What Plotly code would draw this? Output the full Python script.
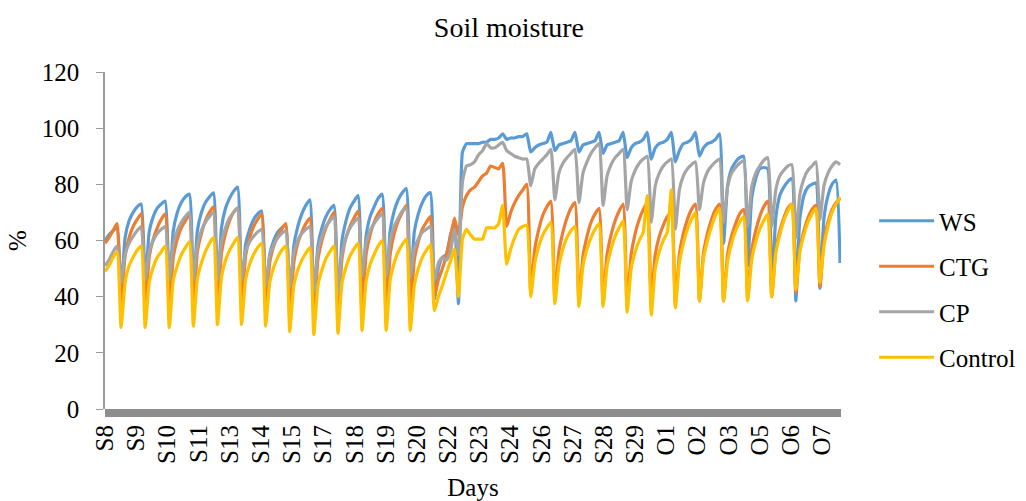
import plotly.graph_objects as go

# sampling interval: 4 hours (1/6 day); day 0 = S8 00:00
STEP_DAYS = 1 / 6

tick_labels = ["S8", "S9", "S10", "S11", "S13", "S14", "S15", "S17", "S18", "S19",
               "S20", "S22", "S23", "S24", "S26", "S27", "S28", "S29", "O1", "O2",
               "O3", "O5", "O6", "O7"]
TICK_SPACING_DAYS = 1.2935

WS = [60, 62, 63.5, 64.5,
      41, 61, 67, 70, 72, 73,
      43.5, 63, 68.5, 71.5, 73, 74,
      42, 63.5, 70, 73.5, 75.5, 76.5,
      42, 63.5, 70, 73.5, 75.5, 77,
      42, 64.5, 71.5, 75, 77.5, 79,
      40, 58.5, 64, 67.5, 69.5, 70.5,
      38, 55, 60, 63, 64.5, 65.5,
      36, 58, 65, 69.5, 72.5, 74.5,
      37, 58, 64.5, 68.5, 71, 72.5,
      37, 60, 67, 71.5, 74, 76,
      40, 61.5, 68.5, 72, 75, 76.5,
      42, 63.5, 70.5, 74.5, 77, 78.5,
      42, 63, 69.5, 73.5, 76, 77,
      39, 50, 54, 55, 62, 66,
      37.5, 91.5, 94.5, 94.5, 94.5, 94.5,
      95, 95, 96, 96, 96.5, 98,
      96, 96.5, 96.5, 97, 97, 98,
      91.5, 93, 94, 94.5, 95, 98.5,
      92, 94, 94.5, 95, 95.5, 98.5,
      91.5, 94, 94.5, 95, 95.5, 98.5,
      91, 94, 94.5, 95, 95.5, 98.5,
      89.5, 93, 94.5, 95, 96, 98.5,
      89, 93, 94.5, 95, 96, 98.5,
      88, 92, 94.5, 95, 96, 98.5,
      90, 93, 94.5, 95, 96, 98,
      59, 79.5, 85.5, 88, 89.5, 90,
      51, 75, 82, 85.5, 86, 85.5,
      41.5, 68, 76, 79, 81, 82,
      38.5, 68, 76, 79, 80, 80.5,
      43, 68, 76, 80, 81.5, 52]

CTG = [59, 61, 63.5, 66,
       36.5, 54.5, 61, 65, 67.5, 69.5,
       35, 54, 60.5, 64.5, 67.5, 69.5,
       36, 54, 60.5, 64.5, 67, 69,
       36, 56, 62.5, 67, 70, 72,
       36, 55.5, 62.5, 67, 70, 71.5,
       36, 54.5, 61, 65, 67.5, 69.5,
       35, 52, 58, 61.5, 64, 66,
       33, 52, 59, 63, 66, 68,
       32, 53, 60, 64.5, 67.5, 70,
       33, 53.5, 61, 65, 68, 70.5,
       34, 55, 62, 66.5, 69.5, 71.5,
       34, 55, 62.5, 67, 70, 72.5,
       34, 53, 59.5, 64, 66.5, 68.5,
       40, 46, 50, 55, 61, 68,
       62, 72, 76, 78, 79, 81,
       83, 84, 86.5, 86, 85.5, 87.5,
       65, 70, 73.5, 76, 78, 80,
       41.5, 57, 64, 69, 72, 74,
       39, 56, 63, 68, 71.5, 73.5,
       37.5, 54.5, 61.5, 66.5, 69.5, 71.5,
       37.5, 55, 62, 67, 70.5, 73,
       36.5, 55, 62.5, 67.5, 71, 73.5,
       39, 55, 61.5, 65.5, 68.5, 70,
       37.5, 55, 62.5, 67.5, 71, 73,
       38.5, 55.5, 62.5, 67.5, 71, 73,
       38.5, 55, 61.5, 66, 69.5, 71,
       39, 56.5, 63.5, 68.5, 72, 74,
       40, 56.5, 63.5, 68, 71.5, 73,
       41.5, 57, 63.5, 68, 71, 72.5,
       43.5, 60, 66.5, 71, 73.5, 75]

CP = [51, 53, 56, 58,
      45, 55, 59, 61.5, 63.5, 65,
      46, 56, 60, 62.5, 64, 65,
      46, 58.5, 63.5, 66.5, 68.5, 70,
      46, 58.5, 63.5, 66.5, 68.5, 70,
      46, 59.5, 64.5, 68, 70, 71.5,
      46, 56, 59.5, 61.5, 63, 64,
      44, 54.5, 58.5, 61, 62.5, 63.5,
      43.5, 55.5, 60, 62.5, 64, 65,
      41.5, 56, 61.5, 65, 67, 68.5,
      41, 55.5, 61, 64.5, 66.5, 68,
      47.5, 59, 63.5, 66, 68, 69.5,
      47, 60, 65, 68, 70.5, 71.5,
      47, 57, 60.5, 63, 64, 65,
      46, 52, 54, 53, 56, 64,
      55, 81, 86.5, 87, 88, 90.5,
      92, 94.5, 93, 93, 94, 95,
      92, 91, 90, 89.5, 89, 89,
      79.5, 85.5, 87.5, 89, 90.5, 92.5,
      74.5, 84, 87.5, 89.5, 91, 92.5,
      73.5, 84, 88, 91, 93, 94.5,
      72.5, 83, 87, 89.5, 91, 92.5,
      71, 81, 85, 87.5, 89, 90,
      66.5, 79.5, 84, 86.5, 88, 89,
      64, 78, 83, 85.5, 87, 88,
      71, 80.5, 84.5, 86.5, 88, 89,
      66.5, 79, 84, 86, 87.5, 88.5,
      65, 79, 84, 86.5, 88.5, 89.5,
      65, 78, 83, 85, 86.5, 87,
      61, 76.5, 82, 85, 86.5, 88,
      67.5, 79.5, 84, 86.5, 88, 87]

Control = [49, 51, 54, 56,
           29, 45, 51, 54, 56.5, 58,
           29, 45, 50.5, 54, 56, 58,
           29, 46, 51, 55, 57.5, 59.5,
           29.5, 46.5, 52, 56, 59, 61,
           30, 47, 53, 56.5, 59, 61,
           30, 46, 51.5, 55, 57.5, 59,
           29.5, 45, 50.5, 54, 56.5, 58,
           27.5, 44, 49.5, 53, 55.5, 57.5,
           26.5, 44, 49.5, 53.5, 56, 58,
           27, 45, 50.5, 54.5, 57, 59,
           28, 45.5, 51.5, 55, 58, 60,
           28, 46, 52, 56, 58.5, 60.5,
           28, 44, 50, 54, 56.5, 58.5,
           35, 40, 44, 48.5, 52.5, 57,
           40, 60.5, 64, 62, 60.5, 60.5,
           60.5, 64.5, 64.5, 64.5, 66, 72.5,
           51.5, 57, 61, 64, 65, 65.5,
           40, 52, 58, 62, 64.5, 66.5,
           37.5, 51, 57, 61, 63.5, 65,
           36.5, 51, 57, 61, 64, 66,
           36.5, 51, 57, 61.5, 64.5, 67,
           34.5, 50, 56, 60, 63, 76,
           33.5, 50, 56, 60, 63, 78,
           36, 52, 59, 64, 67.5, 70,
           38.5, 53.5, 60, 65, 69, 71.5,
           38.5, 52.5, 59, 63.5, 66.5, 68.5,
           38.5, 53, 59.5, 64, 67, 69.5,
           40, 55.5, 62, 67, 70.5, 73,
           42.5, 56, 62, 66.5, 69.5, 71.5,
           45, 58, 65, 70, 73, 75.5]

series = [("WS", WS, "#5B9BD5"), ("CTG", CTG, "#ED7D31"),
          ("CP", CP, "#A5A5A5"), ("Control", Control, "#FFC000")]

FONT = "Liberation Serif"
tfont = dict(family=FONT, size=25, color="black")

fig = go.Figure()
for name, vals, color in series:
    t = [i * STEP_DAYS for i in range(len(vals))]
    fig.add_trace(go.Scatter(x=t, y=vals, mode="lines", name=name,
                             legendgroup=name,
                             line=dict(color=color, width=3.2,
                                       shape="spline", smoothing=0.5)))

tickvals = [i * TICK_SPACING_DAYS for i in range(len(tick_labels))]

fig.update_layout(
    width=1026, height=501,
    margin=dict(l=105, r=185, t=72, b=92, autoexpand=False),
    paper_bgcolor="white", plot_bgcolor="white",
    font=tfont,
    title=dict(text="Soil moisture", x=0.496, xref="container", xanchor="center",
               y=1 - 27 / 501, yref="container", yanchor="middle",
               font=dict(family=FONT, size=28, color="black")),
    showlegend=True,
    legend=dict(x=1.045, xanchor="left", y=(409 - 289) / 337, yanchor="middle",
                font=tfont, tracegroupgap=10, itemwidth=55,
                bgcolor="rgba(0,0,0,0)"),
    xaxis=dict(range=[0, 30.54], tickvals=tickvals, ticktext=tick_labels,
               tickfont=tfont, automargin=False,
               tickangle=-90, ticks="outside", ticklen=5,
               tickcolor="rgba(0,0,0,0)", showgrid=False, zeroline=False,
               showline=False,
               title=dict(text="Days", standoff=21, font=tfont)),
    yaxis=dict(range=[0, 120], dtick=20, ticks="outside", ticklen=7,
               tickfont=tfont, automargin=False,
               tickcolor="#9A9A9A", showline=True, linecolor="#9A9A9A",
               linewidth=1.5, showgrid=False, zeroline=False,
               ticklabelstandoff=12,
               title=dict(text="%", standoff=8, font=tfont)),
    shapes=[dict(type="rect", xref="paper", yref="paper", x0=0, x1=1,
                 y0=-8 / 337, y1=0, fillcolor="#8E8E8E",
                 line=dict(width=0), layer="above")],
)

fig.write_html("out.html")
